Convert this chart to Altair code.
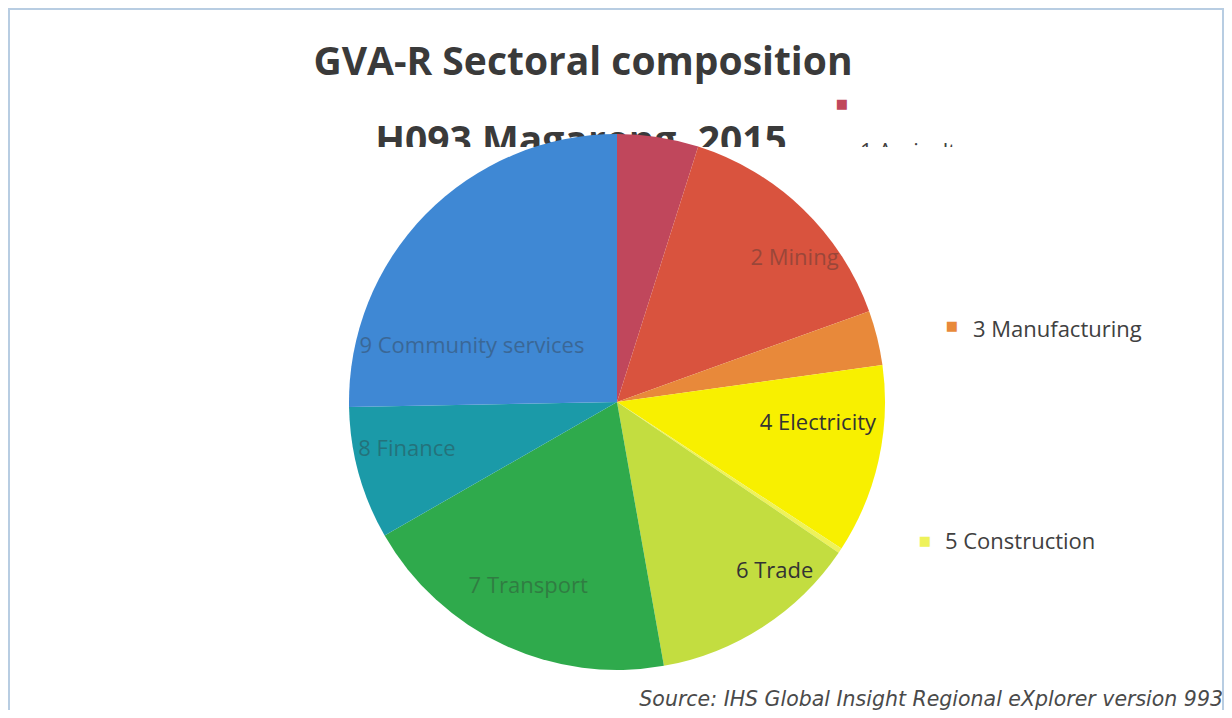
import math
import altair as alt
import pandas as pd

# ---- data ----
sectors = ["1 Agriculture", "2 Mining", "3 Manufacturing", "4 Electricity",
           "5 Construction", "6 Trade", "7 Transport", "8 Finance",
           "9 Community services"]
shares = [4.9, 14.6, 3.3, 11.4, 0.3, 12.7, 19.5, 8.0, 25.3]
colors = ["#c0475c", "#d9533e", "#e8893a", "#f8f000", "#eef25a",
          "#c3dd40", "#2faa4c", "#1b9aa8", "#3f88d4"]
title_lines = ["GVA-R Sectoral composition", "H093 Magareng, 2015"]
source_text = ["Source: IHS Global Insight Regional eXplorer version 993"]

W, H = 1216, 702
CX, CY = 609, 394
R = 268
FONT = "Open Sans"
LBL = 22

df = pd.DataFrame({"idx": list(range(1, len(sectors) + 1)),
                   "sector": sectors, "share": shares})

theta_scale = alt.Scale(domain=[0, 100], range=[0, 2 * math.pi])
color_scale = alt.Scale(domain=sectors, range=colors)

base = (alt.Chart(df)
        .transform_window(cum="sum(share)",
                          sort=[alt.SortField("idx", order="ascending")],
                          frame=[None, 0])
        .transform_calculate(start="datum.cum - datum.share",
                             mid="datum.cum - datum.share / 2"))

one = pd.DataFrame({"a": [0]})


def pos_enc():
    return dict(theta=alt.Theta("mid:Q", scale=theta_scale),
                x=alt.value(CX), y=alt.value(CY))


def only(name):
    return base.transform_filter(
        alt.FieldOneOfPredicate(field="sector", oneOf=[name]))


# title line 2 and agriculture label, partly hidden (as in the scan)
t2 = alt.Chart(pd.DataFrame({"t": [title_lines[1]]})).mark_text(
    font=FONT, fontWeight="bold", fontSize=39, color="#3a3a3a",
    align="center", baseline="alphabetic").encode(
    text="t:N", x=alt.value(573), y=alt.value(146))

agri_txt = only("1 Agriculture").mark_text(
    radius=300, font=FONT, fontSize=LBL, color="#404040",
    align="left", baseline="alphabetic", dx=197, dy=53).encode(
    text="sector:N", **pos_enc())

cut = alt.Chart(one).mark_rect(color="white").encode(
    x=alt.value(0), x2=alt.value(W), y=alt.value(139), y2=alt.value(H))

arcs = base.mark_arc(radius=R, stroke=None).encode(
    theta=alt.Theta("start:Q", scale=theta_scale),
    theta2="cum:Q",
    color=alt.Color("sector:N", scale=color_scale, legend=None),
    order=alt.Order("idx:Q"),
    x=alt.value(CX), y=alt.value(CY))


def inner(name, radius, dx, dy, faded):
    return only(name).mark_text(
        radius=radius, font=FONT, fontSize=LBL, color="#333333",
        opacity=0.38 if faded else 1.0, dx=dx, dy=dy,
        baseline="middle").encode(text="sector:N", **pos_enc())


inner_labels = [
    inner("2 Mining", 230, 18, 22, True),
    inner("4 Electricity", 212, -6, -25, False),
    inner("6 Trade", 220, 38, -16, False),
    inner("7 Transport", 210, 0, -6, True),
    inner("8 Finance", 220, 2, -12, True),
    inner("9 Community services", 150, -38, 49, True),
]


def outside(name, radius, mdx, mdy, tdx, tdy, show_text=True):
    sub = only(name)
    marker = sub.mark_text(radius=radius, font="DejaVu Sans", fontSize=13,
                           dx=mdx, dy=mdy, baseline="middle").encode(
        text=alt.value("■"),
        color=alt.Color("sector:N", scale=color_scale, legend=None),
        **pos_enc())
    layers = [marker]
    if show_text:
        layers.append(sub.mark_text(radius=radius, font=FONT, fontSize=LBL,
                                    color="#404040", align="left",
                                    baseline="middle", dx=tdx, dy=tdy
                                    ).encode(text="sector:N", **pos_enc()))
    return layers


out_labels = (outside("1 Agriculture", 300, 179, -2, 0, 0, show_text=False)
              + outside("3 Manufacturing", 345, 0, 7, 21, 11)
              + outside("5 Construction", 370, 0, -66, 20, -65))

t1 = alt.Chart(pd.DataFrame({"t": [title_lines[0]]})).mark_text(
    font=FONT, fontWeight="bold", fontSize=39, color="#3a3a3a",
    align="center", baseline="alphabetic").encode(
    text="t:N", x=alt.value(575), y=alt.value(67))

src = alt.Chart(pd.DataFrame({"t": source_text})).mark_text(
    font="DejaVu Sans", fontStyle="italic", fontSize=20.5, color="#4a4a4a",
    align="right", baseline="alphabetic").encode(
    text="t:N", x=alt.value(W - 1), y=alt.value(698))

frame_col = "#b8cde2"
frame = [
    alt.Chart(one).mark_rule(color=frame_col, strokeWidth=2).encode(
        x=alt.value(0), x2=alt.value(W), y=alt.value(1)),
    alt.Chart(one).mark_rule(color=frame_col, strokeWidth=2).encode(
        x=alt.value(1), y=alt.value(0), y2=alt.value(H)),
    alt.Chart(one).mark_rule(color=frame_col, strokeWidth=2).encode(
        x=alt.value(W - 1), y=alt.value(0), y2=alt.value(H)),
]

chart = alt.layer(
    t2, agri_txt, cut, arcs, *inner_labels, *out_labels, t1, src, *frame
).properties(
    width=W, height=H, padding=0,
    autosize=alt.AutoSizeParams(type="none"),
    background="white"
).configure_view(stroke=None)

chart.save("out.html", embed_options={"renderer": "svg", "actions": False})
